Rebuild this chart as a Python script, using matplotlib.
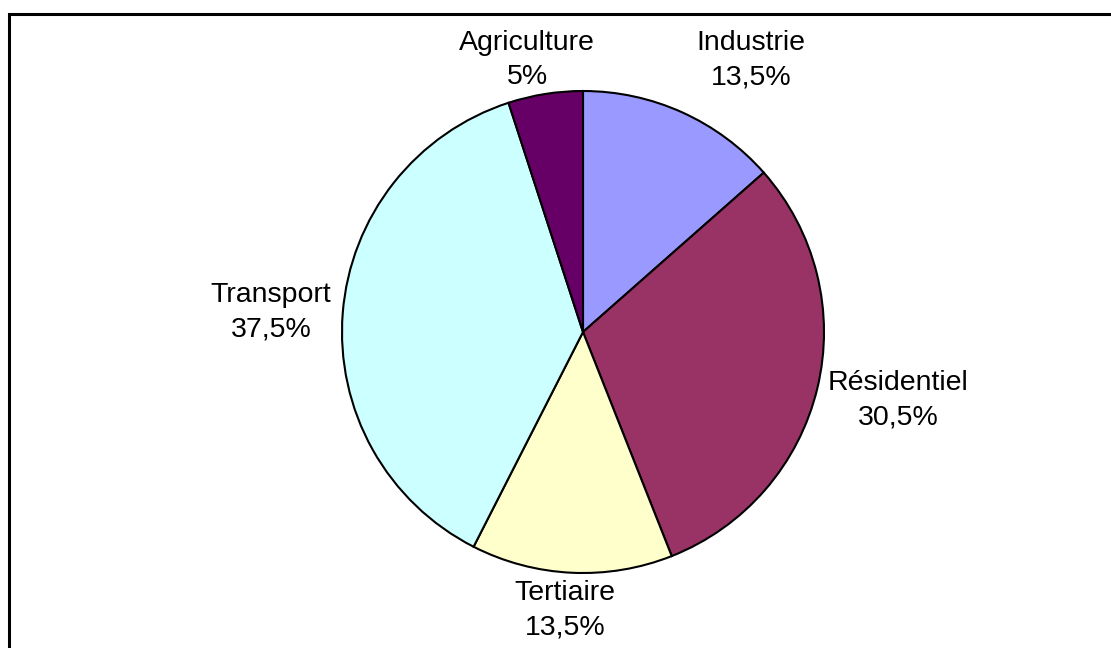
import matplotlib
matplotlib.use("Agg")
import matplotlib.pyplot as plt
from matplotlib.patches import Rectangle

categories = ["Industrie", "Résidentiel", "Tertiaire", "Transport", "Agriculture"]
values = [13.5, 30.5, 13.5, 37.5, 5.0]
value_labels = ["13,5%", "30,5%", "13,5%", "37,5%", "5%"]
colors = ["#9999FF", "#993366", "#FFFFCC", "#CCFFFF", "#660066"]

# label centres in pixel coordinates (layout only)
label_pos = [(751, 60), (898, 400), (565, 610), (271, 312), (527, 60)]

W, H = 1111, 648
plt.rcParams['font.family'] = ['Liberation Sans', 'DejaVu Sans']
fig = plt.figure(figsize=(W / 100, H / 100), dpi=100)
ax = fig.add_axes([0, 0, 1, 1])

cx, cy, r = 583, H - 332, 241
ax.pie(values, colors=colors, startangle=90, counterclock=False,
       center=(cx, cy), radius=r, frame=True,
       wedgeprops=dict(edgecolor='black', linewidth=1.5))
ax.set_xlim(0, W)
ax.set_ylim(0, H)
ax.set_aspect('equal')
ax.axis('off')

for cat, lab, (px, py) in zip(categories, value_labels, label_pos):
    ax.text(px, H - py, f"{cat}\n{lab}", ha='center', va='center',
            fontsize=20.5, linespacing=1.42, color='black')

ax.add_patch(Rectangle((9, -20), 1200, H - 14 + 20, fill=False,
                       edgecolor='black', linewidth=2.2, clip_on=False))

fig.savefig("out.png", dpi=100)
